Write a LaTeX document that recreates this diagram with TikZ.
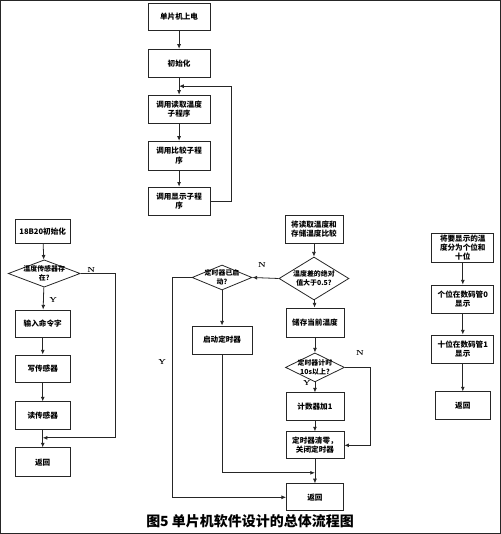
\documentclass[tikz,border=0pt]{standalone}
\usepackage{fontspec}
\newfontfamily\cjk{Noto Sans CJK SC}
\usetikzlibrary{shapes.geometric,arrows.meta}
\begin{document}
\begin{tikzpicture}[x=0.75pt,y=-0.75pt,
  every path/.style={draw=black!85},
  box/.style={draw=black!85, line width=0.6pt, inner sep=0pt, align=center, font=\cjk\bfseries\fontsize{5.7}{6.9}\selectfont},
  dia/.style={draw=black!85, diamond, line width=0.6pt, inner sep=0pt},
  txt/.style={inner sep=0pt, align=center, font=\cjk\bfseries\fontsize{5.2}{6.4}\selectfont},
  lbl/.style={inner sep=0pt, font=\bfseries\fontsize{5.5}{6}\selectfont},
  arr/.style={-{Latex[length=3.5pt,width=3pt]}, line width=0.6pt},
  ln/.style={line width=0.6pt}]
\useasboundingbox (0,0) rectangle (500,534);

% ---------- top column ----------
\node[box, minimum width=46.5pt, minimum height=20.5pt] (a1) at (179,16.5) {单片机上电};
\node[box, minimum width=46.5pt, minimum height=21pt] (a2) at (179,63) {初始化};
\node[box, minimum width=46.5pt, minimum height=21pt] (a3) at (179,109) {调用读取温度\\子程序};
\node[box, minimum width=46.5pt, minimum height=21.5pt] (a4) at (179,155.5) {调用比较子程\\序};
\node[box, minimum width=46.5pt, minimum height=21pt] (a5) at (179,201) {调用显示子程\\序};
\coordinate (j1) at (179,86);
\draw[arr] (a1) -- (a2);
\draw[arr] (a2) -- (a3);
\draw[arr] (a3) -- (a4);
\draw[arr] (a4) -- (a5);
\draw[arr] (a5.east) -- ++(21,0) |- (j1);

% ---------- left column ----------
\node[box, minimum width=41.25pt, minimum height=17.5pt] (b1) at (42.5,231.5) {18B20初始化};
\node[dia, minimum width=54pt, minimum height=20.5pt] (d1) at (44,273.5) {};
\node[txt] (d1t) at (44,273.5) {温度传感器存\\在?};
\node[box, minimum width=41.25pt, minimum height=20.25pt] (b2) at (42.5,323.5) {输入命令字};
\node[box, minimum width=41.25pt, minimum height=21pt] (b3) at (42.5,369) {写传感器};
\node[box, minimum width=41.25pt, minimum height=21pt] (b4) at (42.5,416) {读传感器};
\node[box, minimum width=41.25pt, minimum height=21.75pt] (b5) at (42.5,462.5) {返回};
\coordinate (j2) at (42.5,438);
\draw[arr] (b1) -- (d1);
\draw[arr] (d1) -- (b2);
\node[lbl] (y1) at (53,300) {Y};
\draw[arr] (b2) -- (b3);
\draw[arr] (b3) -- (b4);
\draw[arr] (b4) -- (b5);
\draw[arr] (d1.east) -- ++(35,0) |- (j2);
\node[lbl] (n1) at (91,270) {N};

% ---------- middle ----------
\node[box, minimum width=43.5pt, minimum height=21pt] (c1) at (314,229) {将读取温度和\\存储温度比较};
\node[dia, minimum width=52.5pt, minimum height=32.25pt] (d2) at (314,278.5) {};
\node[txt] (d2t) at (314,278.5) {温度差的绝对\\值大于0.5?};
\node[box, minimum width=43.5pt, minimum height=21.75pt] (c2) at (315,322.5) {储存当前温度};
\node[dia, minimum width=44.25pt, minimum height=21.75pt] (d3) at (315,367.5) {};
\node[txt] (d3t) at (315,367.5) {定时器计时\\10s以上?};
\node[box, minimum width=43.5pt, minimum height=21pt] (c3) at (315,407) {计数器加1};
\node[box, minimum width=43.5pt, minimum height=20.25pt] (c4) at (315,445.5) {定时器清零，\\关闭定时器};
\node[box, minimum width=42.75pt, minimum height=20.25pt] (c5) at (315,497.5) {返回};
\node[dia, minimum width=45pt, minimum height=18.75pt] (d4) at (222,277.5) {};
\node[txt] (d4t) at (222,277.5) {定时器已启\\动?};
\node[box, minimum width=45pt, minimum height=21pt] (c6) at (222,340) {启动定时器};
\coordinate (j3) at (315,473);

\draw[arr] (c1) -- (d2);
\draw[arr] (d2.west) -- (d4.east);
\node[lbl] (n2) at (262,265) {N};
\draw[arr] (d2) -- (c2);
\draw[arr] (c2) -- (d3);
\draw[arr] (d3) -- (c3);
\node[lbl] (y3) at (307,383.5) {Y};
\draw[arr] (c3) -- (c4);
\draw[arr] (d3.east) -- ++(26,0) |- (c4.east);
\node[lbl] (n3) at (360,353) {N};
\draw[arr] (c4) -- (c5);
\draw[arr] (d4) -- (c6);
\draw[arr] (c6.south) |- (j3);
\draw[arr] (d4.west) -- ++(-19,0) |- (c5.west);
\node[lbl] (y4) at (162,362) {Y};

% ---------- right column ----------
\node[box, minimum width=46.5pt, minimum height=21.75pt, font=\cjk\bfseries\fontsize{5.7}{6.5}\selectfont] (e1) at (463,247.5) {将要显示的温\\度分为个位和\\十位};
\node[box, minimum width=46.5pt, minimum height=21pt] (e2) at (463,299) {个位在数码管0\\显示};
\node[box, minimum width=46.5pt, minimum height=21pt] (e3) at (463,349) {十位在数码管1\\显示};
\node[box, minimum width=41.25pt, minimum height=21pt] (e4) at (463,406) {返回};
\draw[arr] (e1) -- (e2);
\draw[arr] (e2) -- (e3);
\draw[arr] (e3) -- (e4);

% ---------- caption ----------
\node[inner sep=0pt, font=\cjk\bfseries\fontsize{10.5}{12}\selectfont] (cap) at (250,521) {图5 单片机软件设计的总体流程图};
\end{tikzpicture}
\end{document}
